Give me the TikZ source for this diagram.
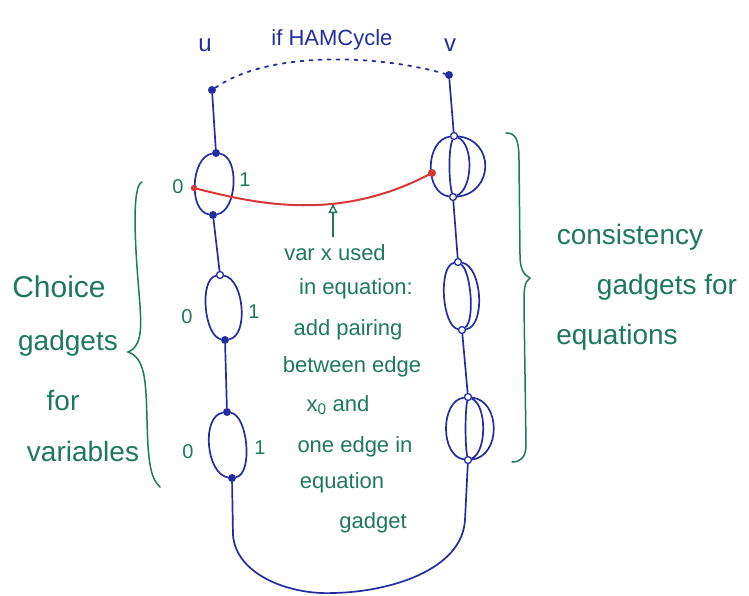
\documentclass[tikz,border=0pt]{standalone}
\usepackage{fontspec}
\setmainfont{Liberation Sans}
\usetikzlibrary{arrows.meta}
\definecolor{ink}{RGB}{35,45,160}
\definecolor{grn}{RGB}{30,120,95}
\definecolor{rd}{RGB}{215,55,55}
\begin{document}
\begin{tikzpicture}[x=1pt,y=1pt,
  edge/.style={draw=ink,line width=1.7pt},
  ovtx/.style={circle,draw=ink,fill=white,line width=1.3pt,inner sep=0pt,minimum size=7pt},
  fvtx/.style={circle,fill=ink,inner sep=0pt,minimum size=8pt},
  lab/.style={text=grn,font=\fontsize{28}{30}\selectfont,inner sep=0pt},
  mid/.style={text=grn,font=\fontsize{22}{24}\selectfont,inner sep=0pt},
  bit/.style={text=grn,font=\fontsize{20}{22}\selectfont,inner sep=0pt},
  uv/.style={text=ink,font=\fontsize{24}{26}\selectfont,inner sep=0pt},
  brace/.style={draw=grn,line width=1.5pt,line cap=round}]
\useasboundingbox (0,0) rectangle (749,-596);

% top
\node[fvtx] (u) at (212,-90) {};
\node[fvtx] (v) at (449,-75) {};
\node[uv] (ul) at (205,-45) {u};
\node[uv] (vl) at (450,-45) {v};
\node[uv,font=\fontsize{22}{24}\selectfont] (ham) at (332,-40) {if HAMCycle};
\draw[ink,line width=1.8pt,dash pattern=on 3pt off 6pt,line cap=round] (u) .. controls (270,-50) and (380,-55) .. (v);

% left gadgets (variables)
\node[fvtx] (a1) at (216,-153) {};
\node[fvtx] (b1) at (213,-215) {};
\node[ovtx] (a2) at (220,-275) {};
\node[fvtx] (b2) at (225,-340) {};
\node[fvtx] (a3) at (227,-412) {};
\node[fvtx] (b3) at (232,-478) {};

\draw[edge] (u) -- (a1);
\draw[edge] (a1) .. controls +(-25,-4) and +(-25,4) .. (b1);
\draw[edge] (a1) .. controls +(24,-4) and +(24,4) .. (b1);
\draw[edge] (b1) -- (a2);
\draw[edge] (a2) .. controls +(-21,-4) and +(-21,4) .. (b2);
\draw[edge] (a2) .. controls +(24,-4) and +(24,4) .. (b2);
\draw[edge] (b2) -- (a3);
\draw[edge] (a3) .. controls +(-26,-4) and +(-26,4) .. (b3);
\draw[edge] (a3) .. controls +(21,-4) and +(21,4) .. (b3);

\node[bit] (z1) at (178,-187) {0};
\node[bit] (o1) at (245,-180) {1};
\node[bit] (z2) at (187,-317) {0};
\node[bit] (o2) at (254,-312) {1};
\node[bit] (z3) at (188,-452) {0};
\node[bit] (o3) at (260,-448) {1};

% right gadgets (equations)
\node[ovtx] (ra) at (454,-136) {};
\node[ovtx] (rb) at (453,-197) {};
\node[ovtx] (sa) at (458,-262) {};
\node[ovtx] (sb) at (462,-330) {};
\node[ovtx] (ta) at (468,-397) {};
\node[ovtx] (tb) at (468,-460) {};

\draw[edge] (v) -- (ra);
\draw[edge] (ra) .. controls +(-29,-4) and +(-29,4) .. (rb);
\draw[edge] (ra) .. controls +(41,-4) and +(41,4) .. (rb);
\draw[edge] (ra) .. controls +(-6,-15) and +(-4,15) .. (rb);
\draw[edge] (ra) .. controls +(20,-8) and +(20,8) .. (rb);
\draw[edge] (rb) -- (sa);
\draw[edge] (sa) .. controls +(-20,-4) and +(-20,4) .. (sb);
\draw[edge] (sa) .. controls +(24,-4) and +(24,4) .. (sb);
\draw[edge] (sa) .. controls +(13,-10) and +(13,10) .. (sb);
\draw[edge] (sb) -- (ta);
\draw[edge] (ta) .. controls +(-28,-4) and +(-28,4) .. (tb);
\draw[edge] (ta) .. controls +(33,-4) and +(33,4) .. (tb);
\draw[edge] (ta) .. controls +(-3,-15) and +(-3,15) .. (tb);
\draw[edge] (ta) .. controls +(19,-8) and +(19,8) .. (tb);

% return path
\draw[edge] (b3) -- (233,-535) .. controls (236,-575) and (290,-595) .. (333,-593)
  .. controls (390,-592) and (462,-570) .. (465,-520) -- (tb);

% red pairing
\coordinate (r0) at (194,-188);
\coordinate (r1) at (432,-173);
\draw[rd,line width=2pt] (r0) .. controls (260,-205) and (340,-222) .. (r1);
\fill[rd] (r0) circle (3.2);
\fill[rd] (r1) circle (4);

% middle annotation
\coordinate (p0) at (333,-237);
\coordinate (p1) at (333,-204);
\draw[grn,line width=1.4pt,-{Triangle[open,length=9pt,width=9pt]}] (p0) -- (p1);
\node[mid] (m1) at (335,-253) {var x used};
\node[mid] (m2) at (356,-289) {in equation:};
\node[mid] (m3) at (348,-330) {add pairing};
\node[mid] (m4) at (352,-367) {between edge};
\node[mid] (m5) at (338,-405) {x\textsubscript{0} and};
\node[mid] (m6) at (355,-447) {one edge in};
\node[mid] (m7) at (342,-483) {equation};
\node[mid] (m8) at (373,-523) {gadget};

% left brace and label
\draw[brace] (142,-182) .. controls (133,-185) and (134,-230) .. (138,-280)
  .. controls (141,-320) and (145,-345) .. (128,-352)
  .. controls (145,-358) and (146,-380) .. (147,-420)
  .. controls (148,-460) and (150,-478) .. (160,-487);
\node[lab,font=\fontsize{30}{32}\selectfont] (c1) at (59,-287) {Choice};
\node[lab] (c2) at (68,-343) {gadgets};
\node[lab] (c3) at (63,-401) {for};
\node[lab] (c4) at (83,-451) {variables};

% right brace and label
\draw[brace] (506,-133) .. controls (515,-133) and (519,-138) .. (519,-160) -- (520,-255)
  .. controls (520,-270) and (524,-275) .. (530,-278)
  .. controls (524,-282) and (524,-290) .. (524,-305) -- (526,-445)
  .. controls (526,-458) and (520,-462) .. (512,-462);
\node[lab] (e1) at (630,-237) {consistency};
\node[lab] (e2) at (667,-287) {gadgets for};
\node[lab] (e3) at (617,-337) {equations};
\end{tikzpicture}
\end{document}
